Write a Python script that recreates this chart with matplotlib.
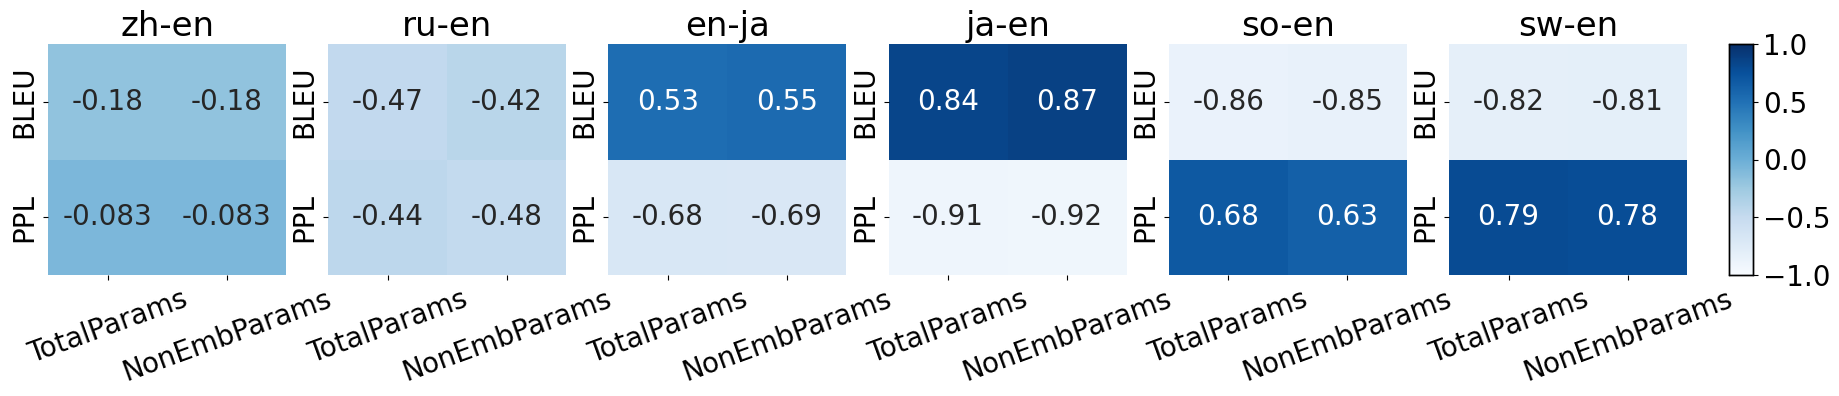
import matplotlib
matplotlib.use("Agg")
import matplotlib.pyplot as plt
import numpy as np
import seaborn as sns

pairs = ["zh-en", "ru-en", "en-ja", "ja-en", "so-en", "sw-en"]
row_labels = ["BLEU", "PPL"]
col_labels = ["TotalParams", "NonEmbParams"]

zh_en = [[-0.18, -0.18], [-0.083, -0.083]]
ru_en = [[-0.47, -0.42], [-0.44, -0.48]]
en_ja = [[0.53, 0.55], [-0.68, -0.69]]
ja_en = [[0.84, 0.87], [-0.91, -0.92]]
so_en = [[-0.86, -0.85], [0.68, 0.63]]
sw_en = [[-0.82, -0.81], [0.79, 0.78]]
values = [zh_en, ru_en, en_ja, ja_en, so_en, sw_en]

W, H = 1839, 396
fig = plt.figure(figsize=(W / 100, H / 100), dpi=100)

def px_axes(x0, y_top, w, h):
    return fig.add_axes([x0 / W, (H - y_top - h) / H, w / W, h / H])

cax = px_axes(1729, 44, 24, 231)
for i, (name, data) in enumerate(zip(pairs, values)):
    ax = px_axes(48 + 280.2 * i, 44, 238, 231)
    last = i == len(pairs) - 1
    sns.heatmap(np.array(data), ax=ax, cmap="Blues", vmin=-1, vmax=1,
                annot=True, annot_kws={"size": 20},
                xticklabels=col_labels, yticklabels=row_labels,
                cbar=last, cbar_ax=cax if last else None)
    ax.set_title(name, fontsize=24.5)
    ax.set_xticklabels(col_labels, rotation=20, fontsize=20)
    ax.set_yticklabels(row_labels, rotation=90, va="center", fontsize=20)

cax.tick_params(labelsize=20)
for s in cax.spines.values():
    s.set_visible(True)
    s.set_linewidth(1)

fig.savefig("out.png", dpi=100)
